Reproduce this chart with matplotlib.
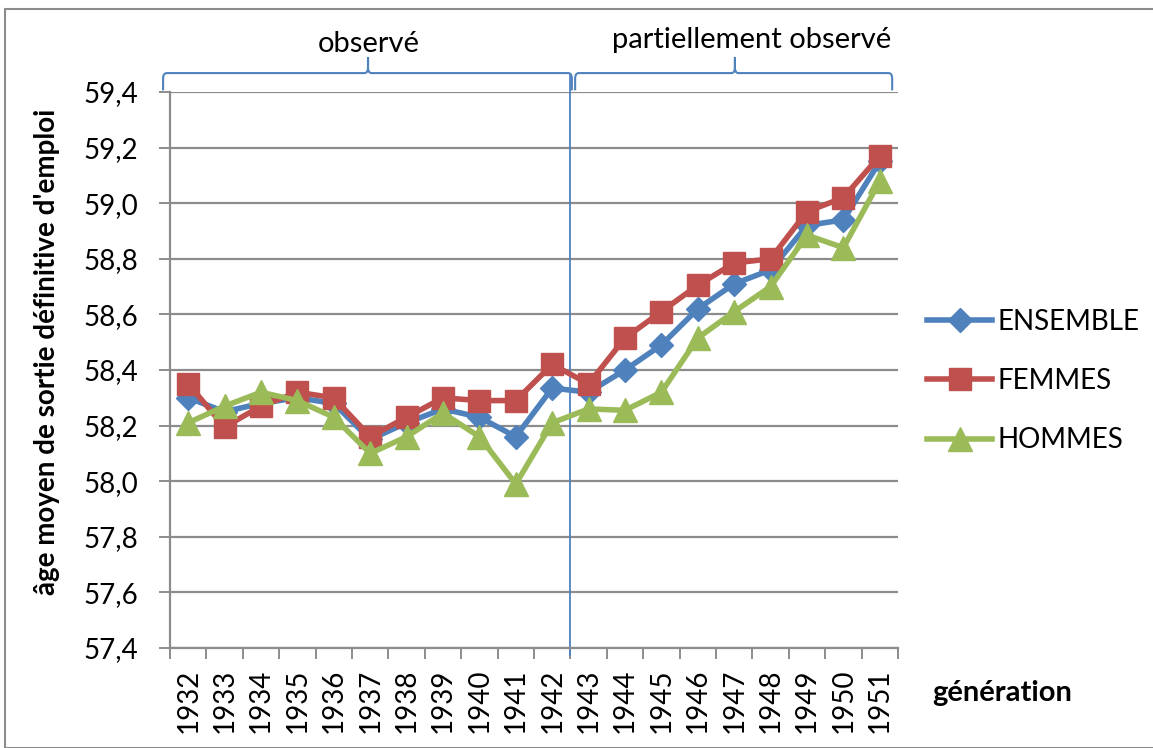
import matplotlib
matplotlib.use("Agg")
import matplotlib.pyplot as plt
from matplotlib.path import Path
from matplotlib.patches import PathPatch, Rectangle
import matplotlib.transforms as mtransforms

plt.rcParams['font.family'] = ['Lato', 'DejaVu Sans']

years = [str(y) for y in range(1932, 1952)]
ensemble = [58.30, 58.25, 58.28, 58.30, 58.28, 58.15, 58.21, 58.26, 58.23, 58.16, 58.335,
            58.32, 58.40, 58.49, 58.62, 58.71, 58.76, 58.92, 58.94, 59.15]
femmes = [58.35, 58.195, 58.27, 58.32, 58.30, 58.16, 58.23, 58.30, 58.29, 58.29, 58.42,
          58.35, 58.515, 58.61, 58.705, 58.785, 58.80, 58.97, 59.02, 59.17]
hommes = [58.21, 58.27, 58.32, 58.29, 58.23, 58.10, 58.16, 58.245, 58.16, 57.99, 58.21,
          58.26, 58.255, 58.32, 58.515, 58.61, 58.70, 58.885, 58.84, 59.08]
series_names = ["ENSEMBLE", "FEMMES", "HOMMES"]
yticks = [57.4, 57.6, 57.8, 58.0, 58.2, 58.4, 58.6, 58.8, 59.0, 59.2, 59.4]
period_labels = ["observé", "partiellement observé"]

W, H = 1153, 748
fig = plt.figure(figsize=(W / 100, H / 100), dpi=100)
fig.patches.append(Rectangle((5 / W, 0), 1.2, 1 - 9 / H, transform=fig.transFigure,
                             fill=False, edgecolor='#8c8c8c', linewidth=1.5))

L, R, T, B = 170, 898, 92, 648
ax = fig.add_axes([L / W, 1 - B / H, (R - L) / W, (B - T) / H])
x = list(range(len(years)))

blue, red, green = '#4F81BD', '#C0504D', '#9BBB59'
ax.plot(x, ensemble, color=blue, lw=4, marker='D', ms=12, label=series_names[0], zorder=3)
ax.plot(x, femmes, color=red, lw=4, marker='s', ms=16, label=series_names[1], zorder=4)
ax.plot(x, hommes, color=green, lw=4, marker='^', ms=17, label=series_names[2], zorder=5)

ax.set_xlim(-0.5, len(years) - 0.5)
ax.set_ylim(57.4, 59.4)
ax.set_yticks(yticks)
ax.set_yticklabels([f"{v:.1f}".replace('.', ',') for v in yticks], fontsize=20)
ax.yaxis.grid(True, color='#8c8c8c', lw=1.6)
ax.set_axisbelow(True)
ax.set_xticks(x)
ax.set_xticklabels(years, rotation=90, fontsize=20)
ax.set_xticks([i - 0.5 for i in range(len(years) + 1)], minor=True)
ax.tick_params(axis='x', which='major', length=0, pad=15)
ax.tick_params(axis='x', which='minor', length=8, color='#8c8c8c', width=1.4)
ax.tick_params(axis='y', length=8, color='#8c8c8c', width=1.4, pad=15)
for s in ['top', 'right']:
    ax.spines[s].set_visible(False)
for s in ['left', 'bottom']:
    ax.spines[s].set_color('#8c8c8c')
    ax.spines[s].set_linewidth(1.6)

trans = mtransforms.blended_transform_factory(ax.transData, ax.transAxes)
ax.plot([10.5, 10.5], [-0.013, 1.03], color=blue, lw=1.3, transform=trans, clip_on=False, zorder=1)


def bracket(x0, x1, xc):
    yb, yt, yc, yd = 1.003, 1.034, 1.063, 0.1
    verts = [(x0, yb), (x0, yt - 0.01), (x0, yt), (x0 + yd, yt),
             (xc - yd, yt), (xc, yt), (xc, yt + 0.01), (xc, yc),
             (xc, yt + 0.01), (xc, yt), (xc + yd, yt),
             (x1 - yd, yt), (x1, yt), (x1, yt - 0.01), (x1, yb)]
    codes = [Path.MOVETO, Path.LINETO, Path.CURVE3, Path.CURVE3,
             Path.LINETO, Path.CURVE3, Path.CURVE3, Path.LINETO,
             Path.LINETO, Path.CURVE3, Path.CURVE3,
             Path.LINETO, Path.CURVE3, Path.CURVE3, Path.LINETO]
    ax.add_patch(PathPatch(Path(verts, codes), fill=False, edgecolor=blue, lw=1.5,
                           transform=trans, clip_on=False))


bracket(-0.69, 10.54, 4.94)
bracket(10.63, 19.34, 15.02)

fig.text(369 / W, 1 - 44 / H, period_labels[0], fontsize=21, ha='center', va='center')
fig.text(752 / W, 1 - 40 / H, period_labels[1], fontsize=21, ha='center', va='center')
fig.text(47 / W, 1 - 352 / H, "âge moyen de sortie définitive d'emploi", fontsize=20,
         fontweight='bold', rotation=90, ha='center', va='center')
fig.text(1002 / W, 1 - 693 / H, "génération", fontsize=21, fontweight='bold',
         ha='center', va='center')

leg = ax.legend(loc='center left', bbox_to_anchor=(927 / W, 1 - 381 / H),
                bbox_transform=fig.transFigure, frameon=False, fontsize=20,
                handlelength=2.35, handletextpad=0.18, labelspacing=1.2, borderpad=0,
                borderaxespad=0)

fig.savefig("out.png", dpi=100)
